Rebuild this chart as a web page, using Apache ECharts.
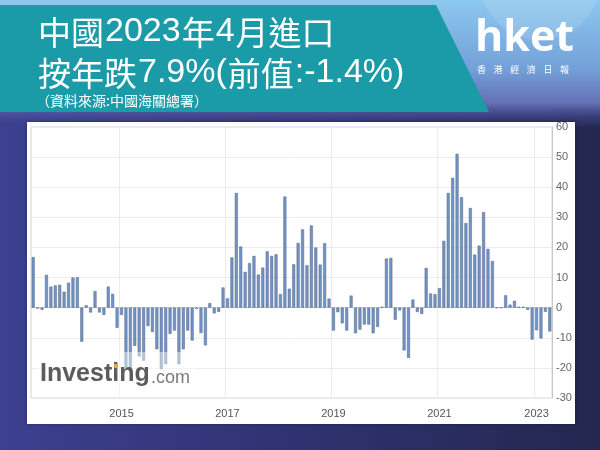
<!DOCTYPE html>
<html>
<head>
<meta charset="utf-8">
<script src="https://cdn.jsdelivr.net/npm/echarts@6/dist/echarts.min.js"></script>
<style>html,body{margin:0;padding:0;background:#2a2c5e;}#chart{width:600px;height:450px;}</style>
</head>
<body>
<div id="chart"></div>
<script>
// ---- data (China imports, % YoY; Jan/Feb combined from 2021) ----
const categories = [
 '2013-04','2013-05','2013-06','2013-07','2013-08','2013-09','2013-10','2013-11','2013-12',
 '2014-01','2014-02','2014-03','2014-04','2014-05','2014-06','2014-07','2014-08','2014-09','2014-10','2014-11','2014-12',
 '2015-01','2015-02','2015-03','2015-04','2015-05','2015-06','2015-07','2015-08','2015-09','2015-10','2015-11','2015-12',
 '2016-01','2016-02','2016-03','2016-04','2016-05','2016-06','2016-07','2016-08','2016-09','2016-10','2016-11','2016-12',
 '2017-01','2017-02','2017-03','2017-04','2017-05','2017-06','2017-07','2017-08','2017-09','2017-10','2017-11','2017-12',
 '2018-01','2018-02','2018-03','2018-04','2018-05','2018-06','2018-07','2018-08','2018-09','2018-10','2018-11','2018-12',
 '2019-01','2019-02','2019-03','2019-04','2019-05','2019-06','2019-07','2019-08','2019-09','2019-10','2019-11','2019-12',
 '2020-01','2020-02','2020-03','2020-04','2020-05','2020-06','2020-07','2020-08','2020-09','2020-10','2020-11','2020-12',
 '2021-02','2021-03','2021-04','2021-05','2021-06','2021-07','2021-08','2021-09','2021-10','2021-11','2021-12',
 '2022-02','2022-03','2022-04','2022-05','2022-06','2022-07','2022-08','2022-09','2022-10','2022-11','2022-12',
 '2023-02','2023-03','2023-04'
];
const v2013 = [16.8, -0.3, -0.7, 10.9, 7.0, 7.4, 7.6, 5.3, 8.3];
const v2014 = [10.0, 10.1, -11.3, 0.8, -1.6, 5.5, -1.6, -2.4, 7.0, 4.6, -6.7, -2.4];
const v2015 = [-19.9, -20.5, -12.7, -16.2, -17.6, -6.1, -8.1, -13.8, -20.4, -18.8, -8.7, -7.6];
const v2016 = [-18.8, -13.8, -7.6, -10.9, -0.4, -8.4, -12.5, 1.5, -1.9, -1.4, 6.7, 3.1];
const v2017 = [16.7, 38.1, 20.3, 11.9, 14.8, 17.2, 11.0, 13.3, 18.7, 17.2, 17.7, 4.5];
const v2018 = [36.9, 6.3, 14.4, 21.5, 26.0, 14.1, 27.3, 20.0, 14.3, 21.4, 3.0, -7.6];
const v2019 = [-1.5, -5.2, -7.6, 4.0, -8.5, -7.3, -5.6, -5.6, -8.5, -6.4, 0.3, 16.3];
const v2020 = [16.5, -4.0, -0.9, -14.2, -16.7, 2.7, -1.4, -2.1, 13.2, 4.7, 4.5, 6.5];
const v2021 = [22.2, 38.1, 43.1, 51.1, 36.7, 28.1, 33.1, 17.6, 20.6, 31.7, 19.5];
const v2022 = [15.5, -0.1, 0.0, 4.1, 1.0, 2.3, 0.3, 0.3, -0.7, -10.6, -7.5];
const v2023 = [-10.2, -1.4, -7.9];
const importsYoY = [].concat(v2013, v2014, v2015, v2016, v2017, v2018, v2019, v2020, v2021, v2022, v2023);

const yearTicks = ['2015', '2017', '2019', '2021', '2023'];
const yTicks = [-30, -20, -10, 0, 10, 20, 30, 40, 50, 60];

const titleLine1 = '中國2023年4月進口';
const titleLine2 = '按年跌7.9%(前值:-1.4%)';
const titleLine3 = '（資料來源:中國海關總署）';
const logoText = 'hket';
const logoChars = ['香', '港', '經', '濟', '日', '報'];
const watermarkMain = 'Investing';
const watermarkTail = '.com';

// year gridline/label sits on the December entry preceding each year
const tickCats = yearTicks.map(y => (Number(y) - 1) + '-12');
const isTick = (i, v) => tickCats.indexOf(v) >= 0;

// split a title string into CJK / latin runs for rich text
function richify(s) {
  const runs = [];
  let cur = '', curType = null;
  for (const ch of s) {
    const t = /[\u3000-\u9fff\uff00-\uffef]/.test(ch) ? 'c' : 'l';
    if (t !== curType && cur) { runs.push('{' + curType + '|' + cur + '}'); cur = ''; }
    curType = t; cur += ch;
  }
  if (cur) runs.push('{' + curType + '|' + cur + '}');
  return runs.join('');
}

const chart = echarts.init(document.getElementById('chart'), null, {renderer: 'canvas'});
const cjk = "'Noto Sans CJK TC',sans-serif";
const titleRich = {
  c: {fontSize: 33, fontFamily: cjk, fill: '#fff', color: '#fff', verticalAlign: 'bottom', lineHeight: 40},
  l: {fontSize: 34, fontFamily: "'Liberation Sans',Arial,sans-serif", fill: '#fff', color: '#fff', verticalAlign: 'bottom', lineHeight: 40, padding: [0, 1, 0, 1]}
};

const logoGraphics = logoChars.map((ch, i) => ({
  type: 'text', z: -14, left: 477 + i * 16.6, top: 65, style: {text: ch, fill: '#fff', font: '9px ' + cjk}
}));

chart.setOption({
  backgroundColor: '#2a2c5e',
  animation: false,
  grid: {left: 31, right: 48, top: 127, bottom: 52, show: true, borderColor: '#d4d4d4', borderWidth: 1, backgroundColor: 'transparent'},
  xAxis: {
    type: 'category',
    data: categories,
    boundaryGap: true,
    axisLine: {show: true, lineStyle: {color: '#c8c8c8'}},
    axisTick: {show: false},
    axisLabel: {interval: isTick, formatter: v => String(Number(v.slice(0, 4)) + 1), color: '#555', fontSize: 11, margin: 10, fontFamily: 'Liberation Sans'},
    splitLine: {show: true, interval: isTick, lineStyle: {color: '#ececec', width: 1}}
  },
  yAxis: {
    type: 'value', position: 'right',
    min: yTicks[0], max: yTicks[yTicks.length - 1], interval: 10,
    axisLine: {show: true, lineStyle: {color: '#c8c8c8'}},
    axisTick: {show: false},
    axisLabel: {color: '#666', fontSize: 11, margin: 4, fontFamily: 'Liberation Sans'},
    splitLine: {lineStyle: {color: '#ececec'}}
  },
  series: [{
    type: 'bar',
    data: importsYoY,
    barWidth: '68%',
    itemStyle: {color: '#7393c4', borderColor: '#52698f', borderWidth: 0.5}
  }],
  graphic: [
    // background
    {type: 'rect', z: -20, silent: true, shape: {x: 0, y: 0, width: 600, height: 450},
     style: {fill: new echarts.graphic.LinearGradient(0, 0, 1, 0, [{offset: 0, color: '#3c4090'}, {offset: 0.5, color: '#2f3270'}, {offset: 1, color: '#24274f'}])}},
    {type: 'rect', z: -19, silent: true, shape: {x: 0, y: 0, width: 600, height: 126},
     style: {fill: new echarts.graphic.LinearGradient(0, 0, 0, 1, [{offset: 0, color: '#8cc8ef'}, {offset: 0.55, color: '#74a0d8'}, {offset: 0.82, color: '#6470b4'}, {offset: 1, color: 'rgba(60,64,140,0.2)'}])}},
    {type: 'circle', z: -18, silent: true, shape: {cx: 540, cy: -20, r: 60}, style: {fill: 'rgba(255,255,255,0.12)'}},
    // teal banner
    {type: 'polygon', z: -15, silent: true, shape: {points: [[0, 5], [436, 5], [489, 112], [0, 112]]}, style: {fill: '#1b9ba8'}},
    // title text
    {type: 'text', z: -14, left: 38, top: 15, style: {text: richify(titleLine1), rich: titleRich}},
    {type: 'text', z: -14, left: 38, top: 56, style: {text: richify(titleLine2), rich: titleRich}},
    {type: 'text', z: -14, left: 36, top: 94, style: {text: titleLine3, fill: '#fff', font: '14px ' + cjk}},
    // hket logo
    {type: 'text', z: -14, left: 475, top: 17, style: {text: logoText, fill: '#fff', font: 'bold 43px "Open Sans", sans-serif'}},
    ...logoGraphics,
    // white chart panel
    {type: 'rect', z: -10, silent: true, shape: {x: 27, y: 122, width: 548, height: 302}, style: {fill: '#ffffff', shadowBlur: 4, shadowColor: 'rgba(0,0,0,0.3)'}},
    // watermark
    {type: 'rect', z: 50, silent: true, shape: {x: 36, y: 352, width: 160, height: 45}, style: {fill: 'rgba(255,255,255,0.45)'}},
    {type: 'text', z: 51, left: 40, top: 362, style: {text: watermarkMain, fill: '#5c5c5c', font: 'bold 25px "Liberation Sans", Arial, sans-serif'}},
    {type: 'text', z: 51, left: 151, top: 369, style: {text: watermarkTail, fill: '#7a7a7a', font: '18px "Liberation Sans", Arial, sans-serif'}},
    {type: 'circle', z: 52, silent: true, shape: {cx: 116, cy: 366, r: 2.3}, style: {fill: '#f0a040'}}
  ]
});
</script>
</body>
</html>
